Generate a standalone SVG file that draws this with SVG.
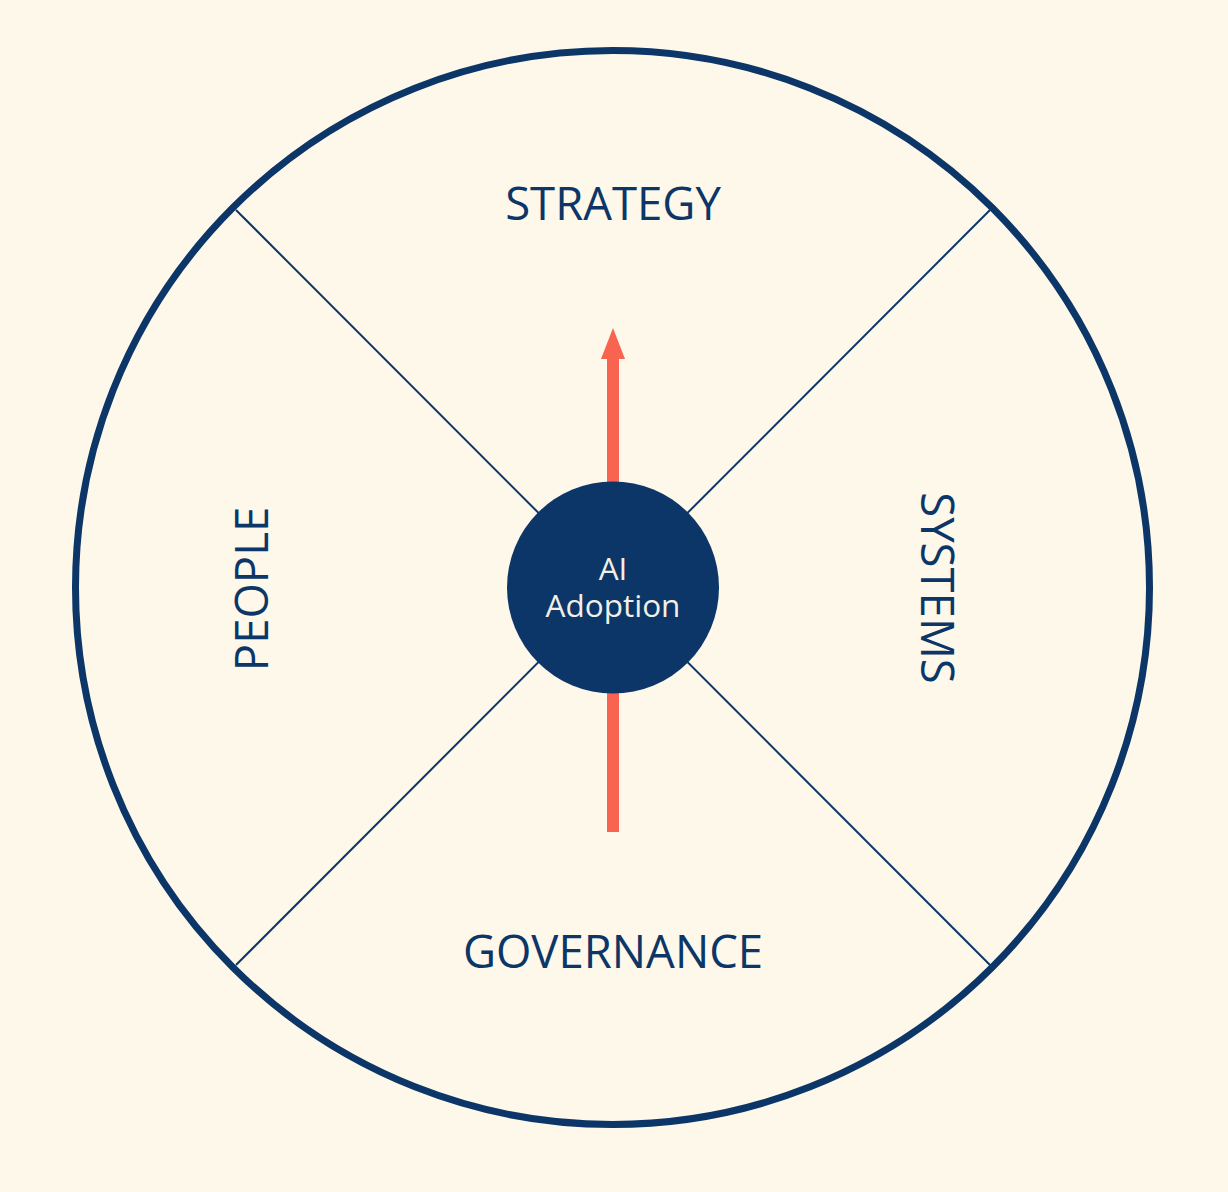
<svg xmlns="http://www.w3.org/2000/svg" width="1228" height="1192" viewBox="0 0 1228 1192">
<style>
.lbl{font-family:"Open Sans","Noto Sans",sans-serif;font-size:45.5px;fill:#0b3667;text-anchor:middle}
.div{stroke:#0b3667;stroke-width:2;fill:none}
.core{font-family:"Open Sans","Noto Sans",sans-serif;font-size:31.5px;fill:#f3efe6;text-anchor:middle}
</style>
<rect width="1228" height="1192" fill="#fdf8ea"/>
<g id="wheel">
<circle cx="612.5" cy="587.5" r="537" fill="#fdf8ea" stroke="#0b3667" stroke-width="7"/>
</g>
<g id="connectors">
<line class="div" x1="236" y1="210" x2="990" y2="965"/>
<line class="div" x1="990" y1="210" x2="236" y2="965"/>
<rect x="607" y="355" width="12" height="477" fill="#f86450"/>
<polygon points="613,328 601,359 625,359" fill="#f86450"/>
</g>
<g id="strategy"><text class="lbl" x="613" y="220">STRATEGY</text></g>
<g id="governance"><text class="lbl" x="613" y="968">GOVERNANCE</text></g>
<g id="people"><text class="lbl" transform="translate(268,589) rotate(-90)">PEOPLE</text></g>
<g id="systems"><text class="lbl" transform="translate(921,588) rotate(90)">SYSTEMS</text></g>
<g id="core">
<circle cx="613" cy="587.5" r="106" fill="#0b3667"/>
<text class="core" x="613" y="580">AI</text>
<text class="core" x="613" y="617">Adoption</text>
</g>
</svg>
